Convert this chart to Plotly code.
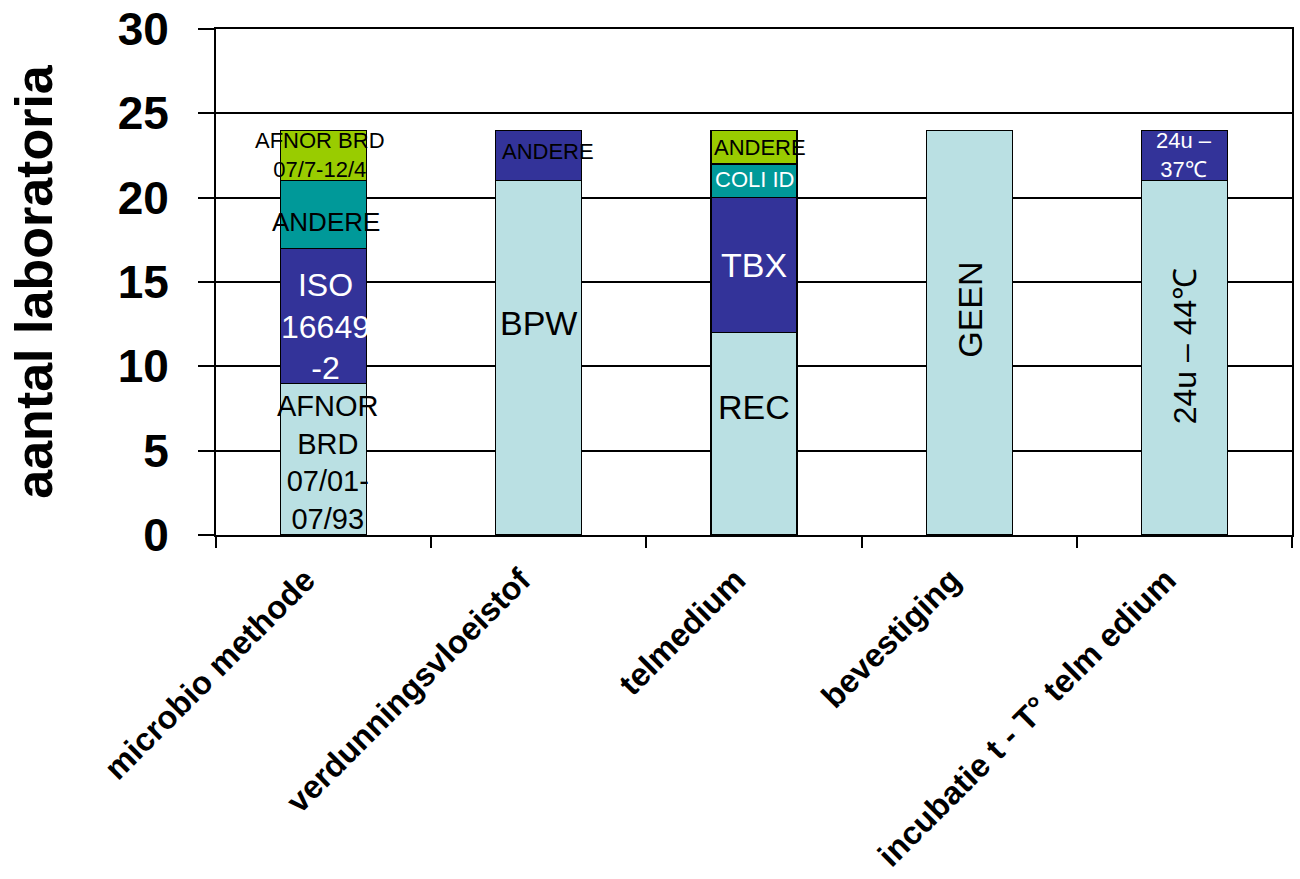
import plotly.graph_objects as go

# Categories on the x axis
categories = [
    "microbio methode",
    "verdunningsvloeistof",
    "telmedium",
    "bevestiging",
    "incubatie t - T° telm edium",
]

# Number of laboratories per stack level (bottom to top)
level1 = [9, 21, 12, 24, 21]
level2 = [8, 3, 8, 0, 3]
level3 = [4, 0, 2, 0, 0]
level4 = [3, 0, 2, 0, 0]

# Segment labels per stack level
labels1 = ["AFNOR<br>BRD<br>07/01-<br>07/93", "BPW", "REC", "GEEN", "24u – 44℃"]
labels2 = ["ISO<br>16649<br>-2", "ANDERE", "TBX", "", "24u –<br>37℃"]
labels3 = ["ANDERE", "", "COLI ID", "", ""]
labels4 = ["AFNOR BRD<br>07/7-12/4", "", "ANDERE", "", ""]

y_ticks = [0, 5, 10, 15, 20, 25, 30]

# Styling
FONT = "Liberation Sans, Arial, sans-serif"
colors = ["#BAE0E3", "#333399", "#009999", "#99CC00"]

levels = [level1, level2, level3, level4]
label_sets = [labels1, labels2, labels3, labels4]

# label style per level and category: (font size, colour, angle, xshift, yshift)
label_styles = [
    [(29, "black", 0, 4, -3), (34, "black", 0, 0, 35), (34, "black", 0, 0, 27),
     (34, "black", -90, 0, 23), (32, "black", -90, 0, 12)],
    [(32, "white", 0, 2, -11), (22, "black", 0, 9, 4), (34, "white", 0, 0, 0),
     None, (22, "white", 0, 0, 1)],
    [(26, "black", 0, 2, -7), None, (22, "white", 0, 0, 1), None, None],
    [(22, "black", 0, -4, 1), None, (22, "black", 0, 6, 0), None, None],
]

fig = go.Figure()

for vals, col in zip(levels, colors):
    fig.add_trace(go.Bar(
        x=categories,
        y=vals,
        marker=dict(color=col, line=dict(color="black", width=1.3)),
        hoverinfo="skip",
        showlegend=False,
    ))

# Segment labels placed at the middle of each stacked segment
annotations = []
base = [0] * len(categories)
for vals, labs, styles in zip(levels, label_sets, label_styles):
    for i, (v, lab, st) in enumerate(zip(vals, labs, styles)):
        if v > 0 and lab and st:
            size, color, angle, xs, ys = st
            annotations.append(dict(
                x=categories[i], y=base[i] + v / 2,
                xref="x", yref="y",
                text=lab, showarrow=False,
                textangle=angle,
                xshift=xs, yshift=ys,
                font=dict(family=FONT, size=size, color=color),
            ))
        base[i] += v

fig.update_layout(
    barmode="stack",
    bargap=0.6,
    width=1300,
    height=879,
    margin=dict(l=216, r=8, t=29, b=344),
    paper_bgcolor="white",
    plot_bgcolor="white",
    annotations=annotations,
    xaxis=dict(
        automargin=False,
        showline=True, linecolor="black", linewidth=2, mirror=True,
        ticks="outside", tickson="boundaries", ticklen=11,
        tickcolor="black", tickwidth=1.5,
        tickangle=-45,
        ticklabelstandoff=11,
        ticklabelshift=-18,
        tickfont=dict(family=FONT, size=32.5, color="black", weight="bold"),
        showgrid=False,
    ),
    yaxis=dict(
        automargin=False,
        range=[0, 30],
        tickvals=y_ticks,
        showline=True, linecolor="black", linewidth=2, mirror=True,
        ticks="outside", ticklen=16, tickcolor="black", tickwidth=1.5,
        ticklabelstandoff=20,
        tickfont=dict(family=FONT, size=46, color="black", weight="bold"),
        showgrid=True, gridcolor="black", gridwidth=1.5,
        zeroline=False,
        title=dict(text="aantal laboratoria", standoff=48,
                   font=dict(family=FONT, size=52, color="black", weight="bold")),
    ),
)

fig.write_html("out.html")
